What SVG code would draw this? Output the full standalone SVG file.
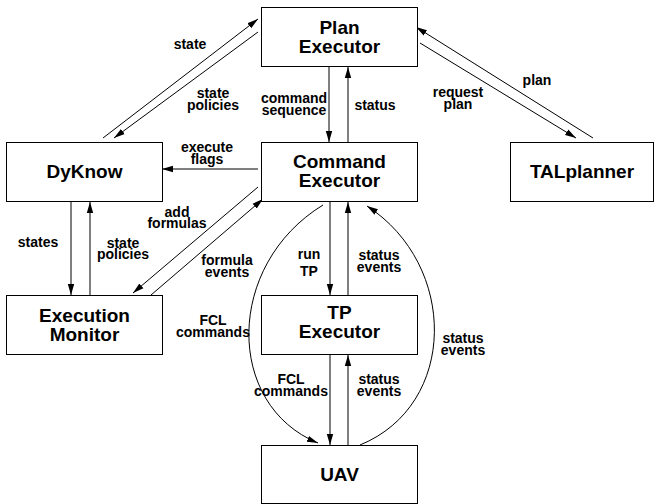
<svg xmlns="http://www.w3.org/2000/svg" width="659" height="504" viewBox="0 0 659 504">
<style>
.box{fill:#fff;stroke:#000;stroke-width:1}
.nl{font-family:"Liberation Sans",Arial,sans-serif;font-weight:bold;font-size:19px;text-anchor:middle;fill:#000}
.el{font-family:"Liberation Sans",Arial,sans-serif;font-weight:bold;font-size:14px;text-anchor:middle;fill:#000}
.c{fill:none;stroke:#000;stroke-width:1;marker-end:url(#ah)}
</style>
<defs>
<marker id="ah" markerUnits="userSpaceOnUse" markerWidth="12" markerHeight="8" refX="11" refY="4" orient="auto">
<path d="M0,0.8 L11,4 L0,7.2 Z" fill="#000"/>
</marker>
</defs>
<rect width="659" height="504" fill="#fff"/>
<g id="connectors">
<path class="c" d="M103,138 L258,19"/>
<path class="c" d="M258,32 L114,138"/>
<path class="c" d="M329,67 L329,142"/>
<path class="c" d="M348,142 L348,67"/>
<path class="c" d="M420,43 L576,138"/>
<path class="c" d="M593,138 L416,27"/>
<path class="c" d="M258,169 L162,169"/>
<path class="c" d="M71,202 L71,295"/>
<path class="c" d="M90,295 L90,202"/>
<path class="c" d="M258,187 L133,293"/>
<path class="c" d="M151,295 L263,199"/>
<path class="c" d="M330,202 L330,295"/>
<path class="c" d="M348,295 L348,202"/>
<path class="c" d="M323,205 C225,265 225,405 318,443"/>
<path class="c" d="M360,445 C458,405 458,265 367,206"/>
<path class="c" d="M330,354 L330,445"/>
<path class="c" d="M348,445 L348,355"/>
<text class="el" x="190" y="49">state</text>
<text class="el" x="213" y="98">state<tspan x="213" dy="11.5">policies</tspan></text>
<text class="el" x="294" y="103">command<tspan x="294" dy="11.5">sequence</tspan></text>
<text class="el" x="375" y="110">status</text>
<text class="el" x="458" y="97">request<tspan x="458" dy="11.5">plan</tspan></text>
<text class="el" x="537" y="85">plan</text>
<text class="el" x="207" y="152">execute<tspan x="207" dy="11.5">flags</tspan></text>
<text class="el" x="38" y="247">states</text>
<text class="el" x="123" y="247.5">state<tspan x="123" dy="11.5">policies</tspan></text>
<text class="el" x="177" y="216.5">add<tspan x="177" dy="11.5">formulas</tspan></text>
<text class="el" x="227" y="265">formula<tspan x="227" dy="11.5">events</tspan></text>
<text class="el" x="213" y="325">FCL<tspan x="213" dy="11.5">commands</tspan></text>
<text class="el" x="309" y="259">run<tspan x="309" dy="17">TP</tspan></text>
<text class="el" x="379" y="260">status<tspan x="379" dy="11.5">events</tspan></text>
<text class="el" x="463" y="343">status<tspan x="463" dy="11.5">events</tspan></text>
<text class="el" x="291" y="384">FCL<tspan x="291" dy="11.5">commands</tspan></text>
<text class="el" x="379" y="384">status<tspan x="379" dy="11.5">events</tspan></text>
</g>
<g id="plan-executor">
<rect class="box" x="261.5" y="7.5" width="156" height="59"/>
<text class="nl" x="339.5" y="34">Plan<tspan x="339.5" dy="19">Executor</tspan></text>
</g>
<g id="dyknow">
<rect class="box" x="6.5" y="142.5" width="156" height="59"/>
<text class="nl" x="84.5" y="178">DyKnow</text>
</g>
<g id="command-executor">
<rect class="box" x="261.5" y="142.5" width="156" height="59"/>
<text class="nl" x="339.5" y="168">Command<tspan x="339.5" dy="19">Executor</tspan></text>
</g>
<g id="talplanner">
<rect class="box" x="510.5" y="142.5" width="143" height="59"/>
<text class="nl" x="582" y="178">TALplanner</text>
</g>
<g id="execution-monitor">
<rect class="box" x="6.5" y="295.5" width="156" height="59"/>
<text class="nl" x="84.5" y="322">Execution<tspan x="84.5" dy="19">Monitor</tspan></text>
</g>
<g id="tp-executor">
<rect class="box" x="261.5" y="295.5" width="156" height="59"/>
<text class="nl" x="339.5" y="319">TP<tspan x="339.5" dy="19">Executor</tspan></text>
</g>
<g id="uav">
<rect class="box" x="261.5" y="445.5" width="156" height="58"/>
<text class="nl" x="339.5" y="481">UAV</text>
</g>
</svg>
